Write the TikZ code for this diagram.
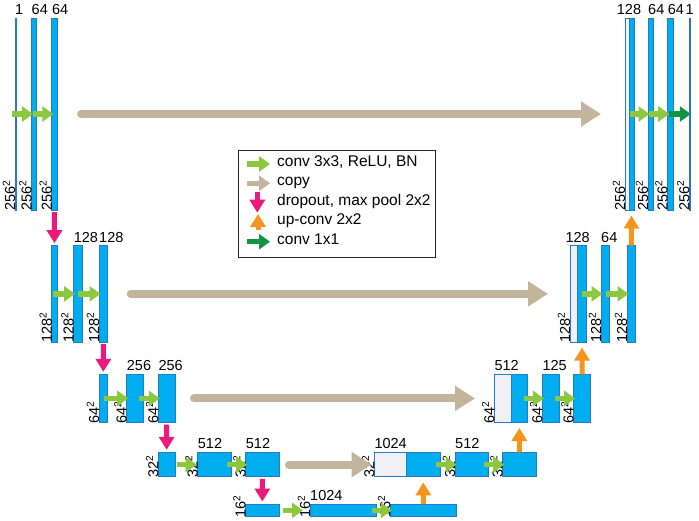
\documentclass[tikz,border=0pt]{standalone}
\usepackage{fontspec}
\setmainfont{Liberation Sans}
\usepackage{tikz}
\definecolor{barblue}{RGB}{0,174,239}
\definecolor{barline}{RGB}{40,120,200}
\definecolor{copygray}{RGB}{241,241,243}
\definecolor{convgreen}{RGB}{141,198,63}
\definecolor{copytan}{RGB}{194,181,155}
\definecolor{poolpink}{RGB}{234,27,122}
\definecolor{uporange}{RGB}{247,148,29}
\definecolor{outgreen}{RGB}{18,148,68}
\usetikzlibrary{
  arrows.meta,
  positioning,
}
\tikzset{
  bar/.style={draw=barline,fill=barblue,rectangle,line width=0.9pt,inner sep=0pt,outer sep=0pt},
  skipbar/.style={bar,fill=copygray},
  chan/.style={anchor=base west,inner sep=0pt,yshift=3.7pt,font=\fontsize{14.5}{17}\selectfont},
  size/.style={rotate=90,anchor=base west,inner sep=0pt,xshift=-1pt,font=\fontsize{14.5}{17}\selectfont},
  leg/.style={anchor=mid west,inner sep=0pt,font=\fontsize{15.5}{18}\selectfont},
  legbox/.style={draw=black!85,line width=0.9pt,rectangle,fill=white},
  conv/.style={color=convgreen,line width=5.5pt,-{Triangle[width=15pt,length=11pt]},shorten <=-4pt,shorten >=-1.5pt},
  final/.style={conv,color=outgreen},
  copy/.style={color=copytan,line width=8pt,line cap=round,-{Triangle[width=24pt,length=20pt]}},
  pool/.style={color=poolpink,line width=5pt,-{Triangle[width=15pt,length=13pt]},shorten <=2pt,shorten >=2.5pt},
  up/.style={color=uporange,line width=5pt,-{Triangle[width=15pt,length=13pt]},shorten >=5.5pt},
  key/.style={shorten <=0pt,shorten >=0pt},
}

\begin{document}
\begin{tikzpicture}[x=1pt,y=-1pt,
    lv1/.style={minimum height=192pt},
    lv2/.style={minimum height=96.3pt},
    lv3/.style={minimum height=48.2pt},
    lv4/.style={minimum height=24.6pt},
    lv5/.style={minimum height=12.7pt}]
  \useasboundingbox (0,0) rectangle (699,520);

  % legend
  \node[legbox,minimum width=197pt,minimum height=107pt] (legend) at (336.5,203.5) {};
  \node[leg] (t1) at (277,164) {conv 3x3, ReLU, BN};
  \node[leg] (t2) at (277,183.3) {copy};
  \node[leg] (t3) at (277,203.3) {dropout, max pool 2x2};
  \node[leg] (t4) at (277,221.7) {up-conv 2x2};
  \node[leg] (t5) at (277,241.7) {conv 1x1};
  \draw[conv,key] ([xshift=-30.3pt]t1.mid west) -- ([xshift=-7pt]t1.mid west);
  \draw[copy,key,line width=5pt,line cap=butt,-{Triangle[width=15pt,length=11pt]}]
    ([xshift=-30.3pt]t2.mid west) -- ([xshift=-7pt]t2.mid west);
  \draw[pool,key] ([xshift=-19.7pt,yshift=11.6pt]t3.mid west) -- ([xshift=-19.7pt,yshift=-9.4pt]t3.mid west);
  \draw[up,key] ([xshift=-19pt,yshift=-8.3pt]t4.mid west) -- ([xshift=-19pt,yshift=7.7pt]t4.mid west);
  \draw[final,key] ([xshift=-30.3pt]t5.mid west) -- ([xshift=-7pt]t5.mid west);

  % level 1
  \node[bar,lv1,minimum width=1pt] (e11) at (15.5,114) {};
  \node[bar,lv1,minimum width=5.3pt] (e12) [right=15.5pt of e11] {};
  \node[bar,lv1,minimum width=5.3pt] (e13) [right=15pt of e12] {};
  \node[skipbar,lv1,minimum width=4pt] (d1c) at (627,114) {};
  \node[bar,lv1,minimum width=5.3pt] (d1u) [right=0pt of d1c] {};
  \node[bar,lv1,minimum width=5.3pt] (d12) [right=13.7pt of d1u] {};
  \node[bar,lv1,minimum width=5.3pt] (d13) [right=14.4pt of d12] {};
  \node[bar,lv1,minimum width=1pt] (out) [right=16.3pt of d13] {};

  % level 2
  \node[bar,lv2,minimum width=5.3pt] (e21) at (54.45,293.85) {};
  \node[bar,lv2,minimum width=8.7pt] (e22) [right=16.45pt of e21] {};
  \node[bar,lv2,minimum width=8.7pt] (e23) [right=16.75pt of e22] {};
  \node[skipbar,lv2,minimum width=7.7pt] (d2c) at (573.85,293.85) {};
  \node[bar,lv2,minimum width=8.7pt] (d2u) [right=0pt of d2c] {};
  \node[bar,lv2,minimum width=8.7pt] (d22) [right=14.6pt of d2u] {};
  \node[bar,lv2,minimum width=8.7pt] (d23) [right=17.3pt of d22] {};

  % level 3
  \node[bar,lv3,minimum width=8.7pt] (e31) at (103.35,398.4) {};
  \node[bar,lv3,minimum width=16.7pt] (e32) [right=19pt of e31] {};
  \node[bar,lv3,minimum width=16.7pt] (e33) [right=14.9pt of e32] {};
  \node[skipbar,lv3,minimum width=16.7pt] (d3c) at (502.65,398.4) {};
  \node[bar,lv3,minimum width=16.7pt] (d3u) [right=0pt of d3c] {};
  \node[bar,lv3,minimum width=16.7pt] (d32) [right=14.7pt of d3u] {};
  \node[bar,lv3,minimum width=16.7pt] (d33) [right=14.6pt of d32] {};

  % level 4
  \node[bar,lv4,minimum width=16.7pt] (e41) at (166.65,464.6) {};
  \node[bar,lv4,minimum width=33.3pt] (e42) [right=22.7pt of e41] {};
  \node[bar,lv4,minimum width=33.3pt] (e43) [right=14.7pt of e42] {};
  \node[skipbar,lv4,minimum width=32.4pt] (d4c) at (390.5,464.6) {};
  \node[bar,lv4,minimum width=33.3pt] (d4u) [right=0pt of d4c] {};
  \node[bar,lv4,minimum width=33.3pt] (d42) [right=15pt of d4u] {};
  \node[bar,lv4,minimum width=33.3pt] (d43) [right=14.4pt of d42] {};

  % bottom
  \node[bar,lv5,minimum width=33.3pt] (b1) at (262.35,510.35) {};
  \node[bar,lv5,minimum width=66pt] (b2) [right=31pt of b1] {};
  \node[bar,lv5,minimum width=66pt] (b3) [right=14.35pt of b2] {};

  % channel counts
  \node[chan] (c11) at (e11.north west) {1};
  \node[chan] (c12) at (e12.north west) {64};
  \node[chan] (c13) at (e13.north west) {64};
  \node[chan,anchor=base] (c14) at (d1c.north east) {128};
  \node[chan] (c15) at (d12.north west) {64};
  \node[chan] (c16) at (d13.north west) {64};
  \node[chan,xshift=-4pt] (c17) at (out.north west) {1};
  \node[chan] (c21) at (e22.north west) {128};
  \node[chan] (c22) at (e23.north west) {128};
  \node[chan,anchor=base] (c23) at (d2c.north east) {128};
  \node[chan] (c24) at (d22.north west) {64};
  \node[chan] (c31) at (e32.north west) {256};
  \node[chan] (c32) at (e33.north west) {256};
  \node[chan] (c33) at (d3c.north west) {512};
  \node[chan] (c34) at (d32.north west) {125};
  \node[chan] (c41) at (e42.north west) {512};
  \node[chan] (c42) at (e43.north west) {512};
  \node[chan] (c43) at (d4c.north west) {1024};
  \node[chan] (c44) at (d42.north west) {512};
  \node[chan] (c51) at (b2.north west) {1024};

  % sizes
  \foreach \b in {e11,e12,e13,d1c,d12,d13,out}
    \node[size] (s-\b) at (\b.south west) {256\textsuperscript{2}};
  \foreach \b in {e21,e22,e23,d2c,d22,d23}
    \node[size] (s-\b) at (\b.south west) {128\textsuperscript{2}};
  \foreach \b in {e31,e32,e33,d3c,d32,d33}
    \node[size] (s-\b) at (\b.south west) {64\textsuperscript{2}};
  \foreach \b in {e41,e42,e43,d4c,d42,d43}
    \node[size] (s-\b) at (\b.south west) {32\textsuperscript{2}};
  \foreach \b in {b1,b2,b3}
    \node[size] (s-\b) at (\b.south west) {16\textsuperscript{2}};

  % copy
  \draw[copy,shorten <=24pt,shorten >=24pt] (e13) -- (d1c);
  \draw[copy,shorten <=23pt,shorten >=22pt] (e23) -- (d2c);
  \draw[copy,shorten <=19pt,shorten >=19.3pt] (e33) -- (d3c);
  \draw[copy,shorten <=10pt,shorten >=2.6pt] (e43) -- (d4c);

  % conv
  \draw[conv] (e11) -- (e12);
  \draw[conv] (e12) -- (e13);
  \draw[conv] (d1u) -- (d12);
  \draw[conv] (d12) -- (d13);
  \draw[final] (d13) -- (out);
  \draw[conv] (e21) -- (e22);
  \draw[conv] (e22) -- (e23);
  \draw[conv] (d2u) -- (d22);
  \draw[conv] (d22) -- (d23);
  \draw[conv] (e31) -- (e32);
  \draw[conv] (e32) -- (e33);
  \draw[conv] (d3u) -- (d32);
  \draw[conv] (d32) -- (d33);
  \draw[conv,shorten <=1.7pt,shorten >=1pt] (e41) -- (e42);
  \draw[conv] (e42) -- (e43);
  \draw[conv] (d4u) -- (d42);
  \draw[conv] (d42) -- (d43);
  \draw[conv,shorten <=3.7pt,shorten >=7pt] (b1) -- (b2);
  \draw[conv] (b2) -- (b3);

  % down
  \draw[pool] (e13) -- (e21);
  \draw[pool] (e23) -- (e31);
  \draw[pool] (e33) -- (e41);
  \draw[pool] (e43) -- (b1);

  % up
  \draw[up] (b3) -- (d4u);
  \draw[up] (d43) -- (d3u);
  \draw[up] (d33) -- (d2u);
  \draw[up] (d23) -- (d1u);
\end{tikzpicture}
\end{document}
